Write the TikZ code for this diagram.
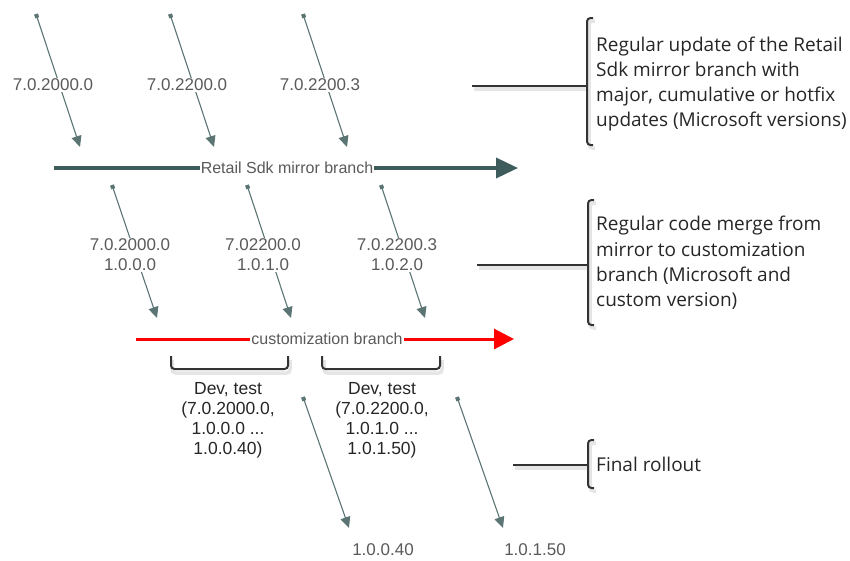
\documentclass[tikz,border=0pt]{standalone}
\usepackage{fontspec}
\setmainfont{Liberation Sans}
\newfontfamily\callfont{Open Sans}
\usetikzlibrary{arrows.meta}
\definecolor{slate}{HTML}{5B7474}
\definecolor{mirror}{HTML}{3E5C5C}
\definecolor{vgray}{HTML}{5A5A5A}
\definecolor{ink}{HTML}{262626}
\definecolor{brk}{HTML}{333333}
\begin{document}
\begin{tikzpicture}[x=1pt,y=-1pt,
  vref/.style={draw=slate, line width=1.1pt,
    {Square[length=4pt,width=4pt]}-{Triangle[length=11pt,width=10pt]}},
  ver/.style={text=vgray, font=\fontsize{17}{20}\selectfont, fill=white,
    inner sep=1pt, align=center},
  branchlbl/.style={text=vgray, font=\fontsize{16}{18}\selectfont, fill=white,
    inner sep=1pt},
  devlbl/.style={text=ink, font=\fontsize{17.5}{20}\selectfont, align=center},
  calltext/.style={text=ink, font=\callfont\fontsize{19}{25.3}\selectfont,
    align=left, anchor=west, inner sep=0pt},
  brace/.style={draw=brk, line width=2pt, rounded corners=3.5pt},
  softshade/.style={draw=black!10, line width=3.5pt, rounded corners=3.5pt},
]
\useasboundingbox (0,0) rectangle (850,560);

% ---- updates flowing into the mirror branch ----
\coordinate (m1s) at (36,14);  \coordinate (m1e) at (80,147);
\coordinate (m2s) at (170,14); \coordinate (m2e) at (214,147);
\coordinate (m3s) at (303,14); \coordinate (m3e) at (347,147);
\draw[vref] (m1s) -- (m1e);
\draw[vref] (m2s) -- (m2e);
\draw[vref] (m3s) -- (m3e);
\node[ver] (m1l) at (53,85)  {7.0.2000.0};
\node[ver] (m2l) at (187,85) {7.0.2200.0};
\node[ver] (m3l) at (320,85) {7.0.2200.3};

% ---- Retail Sdk mirror branch ----
\coordinate (mirS) at (54,168);
\coordinate (mirE) at (518,168);
\draw[draw=mirror, line width=3.6pt, -{Triangle[length=22pt,width=20pt]}] (mirS) -- (mirE);
\node[branchlbl] (mirL) at (287,168) {Retail Sdk mirror branch};

% ---- merges into the customization branch ----
\coordinate (c1s) at (112,185); \coordinate (c1e) at (157,318);
\coordinate (c2s) at (247,185); \coordinate (c2e) at (291,318);
\coordinate (c3s) at (381,185); \coordinate (c3e) at (425,318);
\draw[vref] (c1s) -- (c1e);
\draw[vref] (c2s) -- (c2e);
\draw[vref] (c3s) -- (c3e);
\node[ver] (c1l) at (130,255) {7.0.2000.0\\1.0.0.0};
\node[ver] (c2l) at (263,255) {7.02200.0\\1.0.1.0};
\node[ver] (c3l) at (397,255) {7.0.2200.3\\1.0.2.0};

% ---- customization branch ----
\coordinate (cusS) at (136,339);
\coordinate (cusE) at (514,339);
\draw[draw=red, line width=3pt, -{Triangle[length=20pt,width=20pt]}] (cusS) -- (cusE);
\node[branchlbl] (cusL) at (327,339) {customization branch};

% ---- dev/test spans below the customization branch ----
\draw[softshade] (172,360) -- (172,373) -- (290,373) -- (290,360);
\draw[softshade] (324,360) -- (324,373) -- (442,373) -- (442,360);
\draw[brace] (171,356) -- (171,369) -- (288,369) -- (288,356);
\draw[brace] (322,356) -- (322,369) -- (440,369) -- (440,356);
\node[devlbl] (d1) at (228,420) {Dev, test\\(7.0.2000.0,\\1.0.0.0 ...\\1.0.0.40)};
\node[devlbl] (d2) at (382,420) {Dev, test\\(7.0.2200.0,\\1.0.1.0 ...\\1.0.1.50)};

% ---- final rollout ----
\coordinate (r1s) at (303,397); \coordinate (r1e) at (349,528);
\coordinate (r2s) at (457,397); \coordinate (r2e) at (503,528);
\draw[vref] (r1s) -- (r1e);
\draw[vref] (r2s) -- (r2e);
\node[ver] (r1l) at (383,550) {1.0.0.40};
\node[ver] (r2l) at (535,550) {1.0.1.50};

% ---- callouts on the right ----
\draw[softshade] (474,89) -- (589,89);
\draw[softshade] (595,21) -- (589,21) -- (589,148) -- (595,148);
\draw[brace] (472,86) -- (587,86);
\draw[brace] (593,18) -- (587,18) -- (587,145) -- (593,145);
\node[calltext] (t1) at (596,84) {Regular update of the Retail\\Sdk mirror branch with\\major, cumulative or hotfix\\updates (Microsoft versions)};

\draw[softshade] (479,268) -- (590,268);
\draw[softshade] (596,203) -- (590,203) -- (590,328) -- (596,328);
\draw[brace] (477,265) -- (588,265);
\draw[brace] (594,200) -- (588,200) -- (588,325) -- (594,325);
\node[calltext] (t2) at (596,263) {Regular code merge from\\mirror to customization\\branch (Microsoft and\\custom version)};

\draw[softshade] (515,468) -- (590,468);
\draw[softshade] (596,443) -- (590,443) -- (590,491) -- (596,491);
\draw[brace] (513,465) -- (588,465);
\draw[brace] (594,440) -- (588,440) -- (588,488) -- (594,488);
\node[calltext] (t3) at (596,464) {Final rollout};
\end{tikzpicture}
\end{document}
